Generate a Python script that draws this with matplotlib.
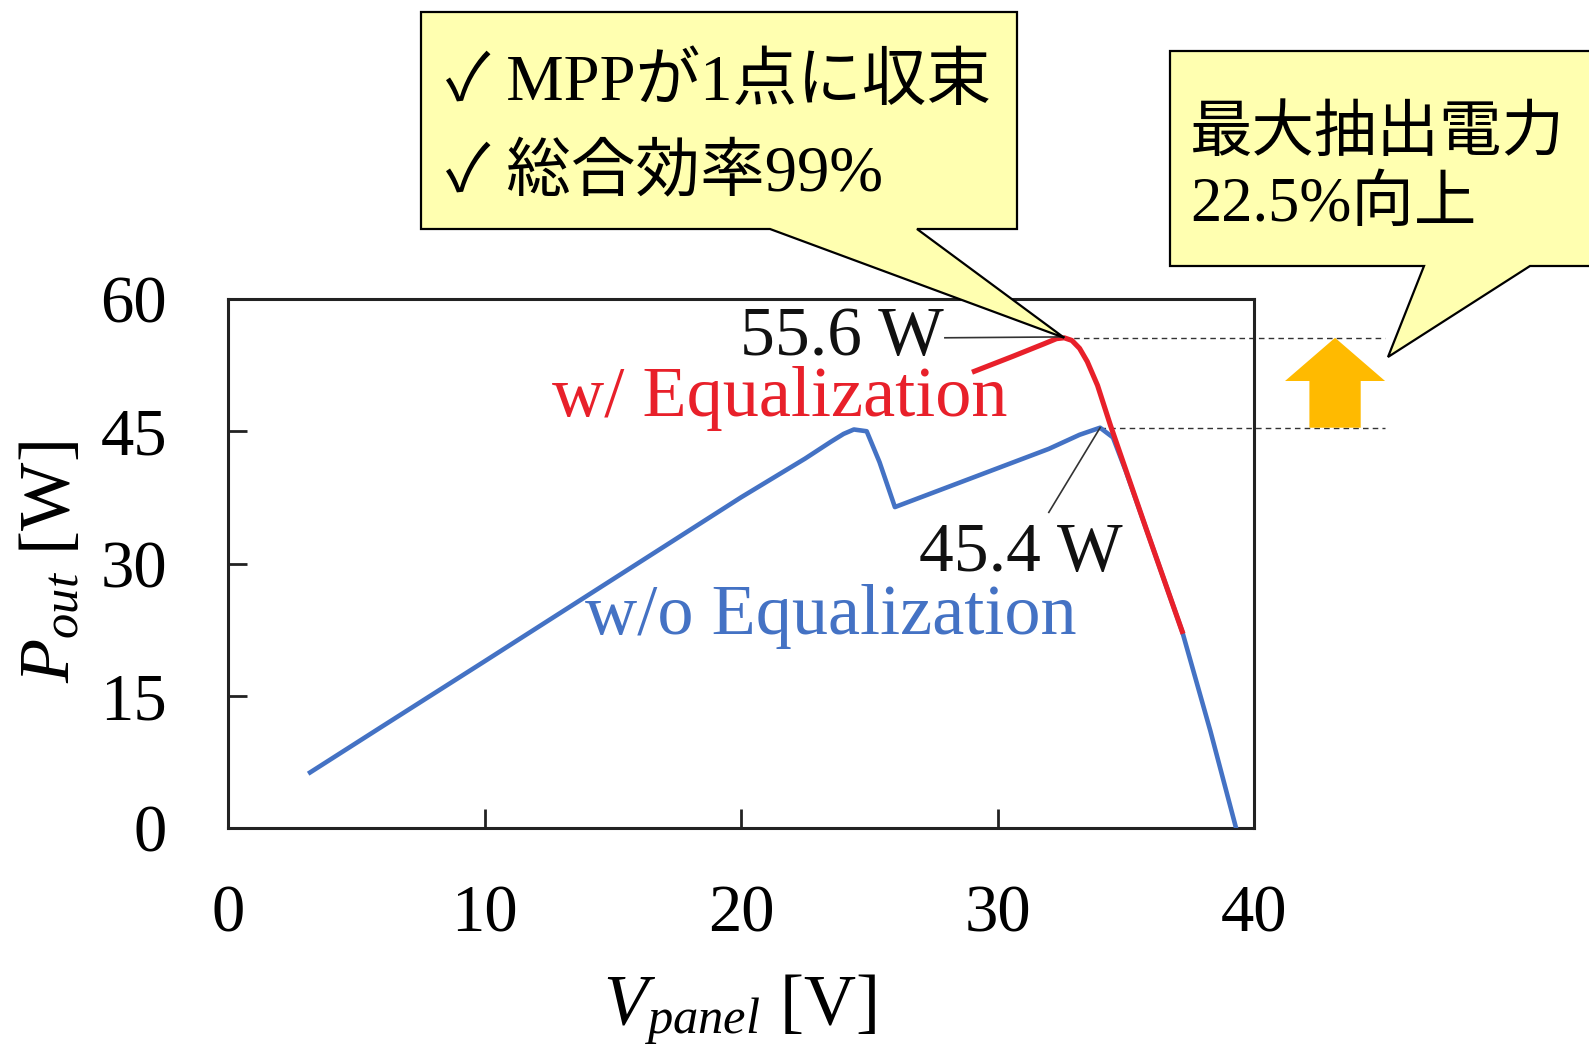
import matplotlib
matplotlib.use("Agg")
import matplotlib.pyplot as plt
from matplotlib.patches import Polygon, FancyArrow

plt.rcParams['font.family'] = ['Liberation Serif', 'Noto Sans CJK JP', 'DejaVu Sans']
plt.rcParams['mathtext.fontset'] = 'custom'
plt.rcParams['mathtext.rm'] = 'Liberation Serif'
plt.rcParams['mathtext.it'] = 'Liberation Serif:italic'

# P-V curves of the panel string
v_without = [3.2, 6.0, 10.0, 15.0, 20.0, 22.5, 23.5, 24.0, 24.4, 24.9, 25.4, 26.0, 28.0,
             30.0, 32.0, 33.2, 34.0, 34.5, 35.0, 35.8, 37.2, 38.3, 39.3]
p_without = [6.3, 11.5, 18.9, 28.2, 37.5, 41.9, 43.8, 44.7, 45.2, 45.0, 41.5, 36.4, 38.6,
             40.8, 43.0, 44.6, 45.4, 44.3, 40.5, 33.9, 22.3, 11.0, 0.0]

v_with = [29.1, 30.6, 31.8, 32.3, 32.6, 32.9, 33.2, 33.5, 33.9, 34.4, 35.8, 37.2]
p_with = [51.8, 53.5, 54.9, 55.5, 55.6, 55.3, 54.4, 52.9, 50.2, 45.7, 33.9, 22.3]

mpp_with = (32.6, 55.6)
mpp_without = (34.0, 45.4)

x_ticks = [0, 10, 20, 30, 40]
y_ticks = [0, 15, 30, 45, 60]

W, H = 1589, 1054
fig = plt.figure(figsize=(W / 100, H / 100), dpi=100)


def px(x, y):
    return (x / W, 1 - y / H)


ax = fig.add_axes([228 / W, 1 - 828 / H, (1254 - 228) / W, (828 - 299) / H])
ax.set_xlim(0, 40)
ax.set_ylim(0, 60)
ax.set_xticks(x_ticks)
ax.set_yticks(y_ticks)
ax.tick_params(direction='in', length=14, width=2, labelsize=48, color='#222222')
ax.tick_params(axis='y', pad=44)
ax.tick_params(axis='x', pad=41)
for s in ax.spines.values():
    s.set_linewidth(2.2)
    s.set_color('#222222')

blue = '#4472C4'
red = '#E8202A'
ax.plot(v_without, p_without, color=blue, lw=3.3, solid_joinstyle='round', zorder=3)
ax.plot(v_with, p_with, color=red, lw=3.7, solid_joinstyle='round', zorder=4)

# dashed reference lines from both maxima
for v, p in (mpp_with, mpp_without):
    ax.plot([v, 45.1], [p, p], color='#333333', lw=1.0, ls=(0, (4, 3)), clip_on=False, zorder=2)

# arrow showing the gain between both maxima
arrow = FancyArrow(43.16, mpp_without[1], 0, mpp_with[1] - mpp_without[1],
                   width=2.0, head_width=3.9, head_length=4.9,
                   length_includes_head=True, color='#FFBA00', lw=0, clip_on=False, zorder=5)
ax.add_patch(arrow)

# value annotations
ax.text(27.9, mpp_with[1], '55.6 W', ha='right', va='center', fontsize=50, color='#111111')
ax.plot([27.95, mpp_with[0]], [mpp_with[1], mpp_with[1] + 0.1], color='#333333', lw=1.2, zorder=5)
ax.text(30.9, 31.0, '45.4 W', ha='center', va='center', fontsize=50, color='#111111')
ax.plot([32.0, mpp_without[0]], [35.8, mpp_without[1]], color='#333333', lw=1.2, zorder=5)

ax.text(21.5, 48.7, 'w/ Equalization', ha='center', va='center', fontsize=52, color=red)
ax.text(23.5, 24.0, 'w/o Equalization', ha='center', va='center', fontsize=52, color=blue)

# axis labels
fig.text(*px(740, 1010), r'$V_{panel}$ [V]', ha='center', va='center', fontsize=52)
fig.text(*px(52, 562), r'$P_{out}$ [W]', ha='center', va='center', fontsize=52, rotation=90)

# speech-bubble callouts
fig.canvas.draw()
tip = fig.transFigure.inverted().transform(ax.transData.transform(mpp_with))
callout1 = [px(421, 12), px(1017, 12), px(1017, 229), px(917, 229), tuple(tip),
            px(770, 229), px(421, 229)]
fig.patches.append(Polygon(callout1, closed=True, facecolor='#FFFFB0', edgecolor='black',
                           lw=1.6, transform=fig.transFigure, zorder=10))

callout2 = [px(1170, 51), px(1600, 51), px(1600, 266), px(1530, 266), px(1388, 357),
            px(1424, 266), px(1170, 266)]
fig.patches.append(Polygon(callout2, closed=True, facecolor='#FFFFB0', edgecolor='black',
                           lw=1.6, transform=fig.transFigure, zorder=10))

fig.text(*px(446, 84), '✓ MPPが1点に収束', ha='left', va='center', fontsize=46.5, zorder=11)
fig.text(*px(446, 175), '✓ 総合効率99%', ha='left', va='center', fontsize=46.5, zorder=11)
fig.text(*px(1190, 136), '最大抽出電力', ha='left', va='center', fontsize=45, zorder=11)
fig.text(*px(1190, 206), '22.5%向上', ha='left', va='center', fontsize=45, zorder=11)

fig.savefig('out.png', dpi=100)
